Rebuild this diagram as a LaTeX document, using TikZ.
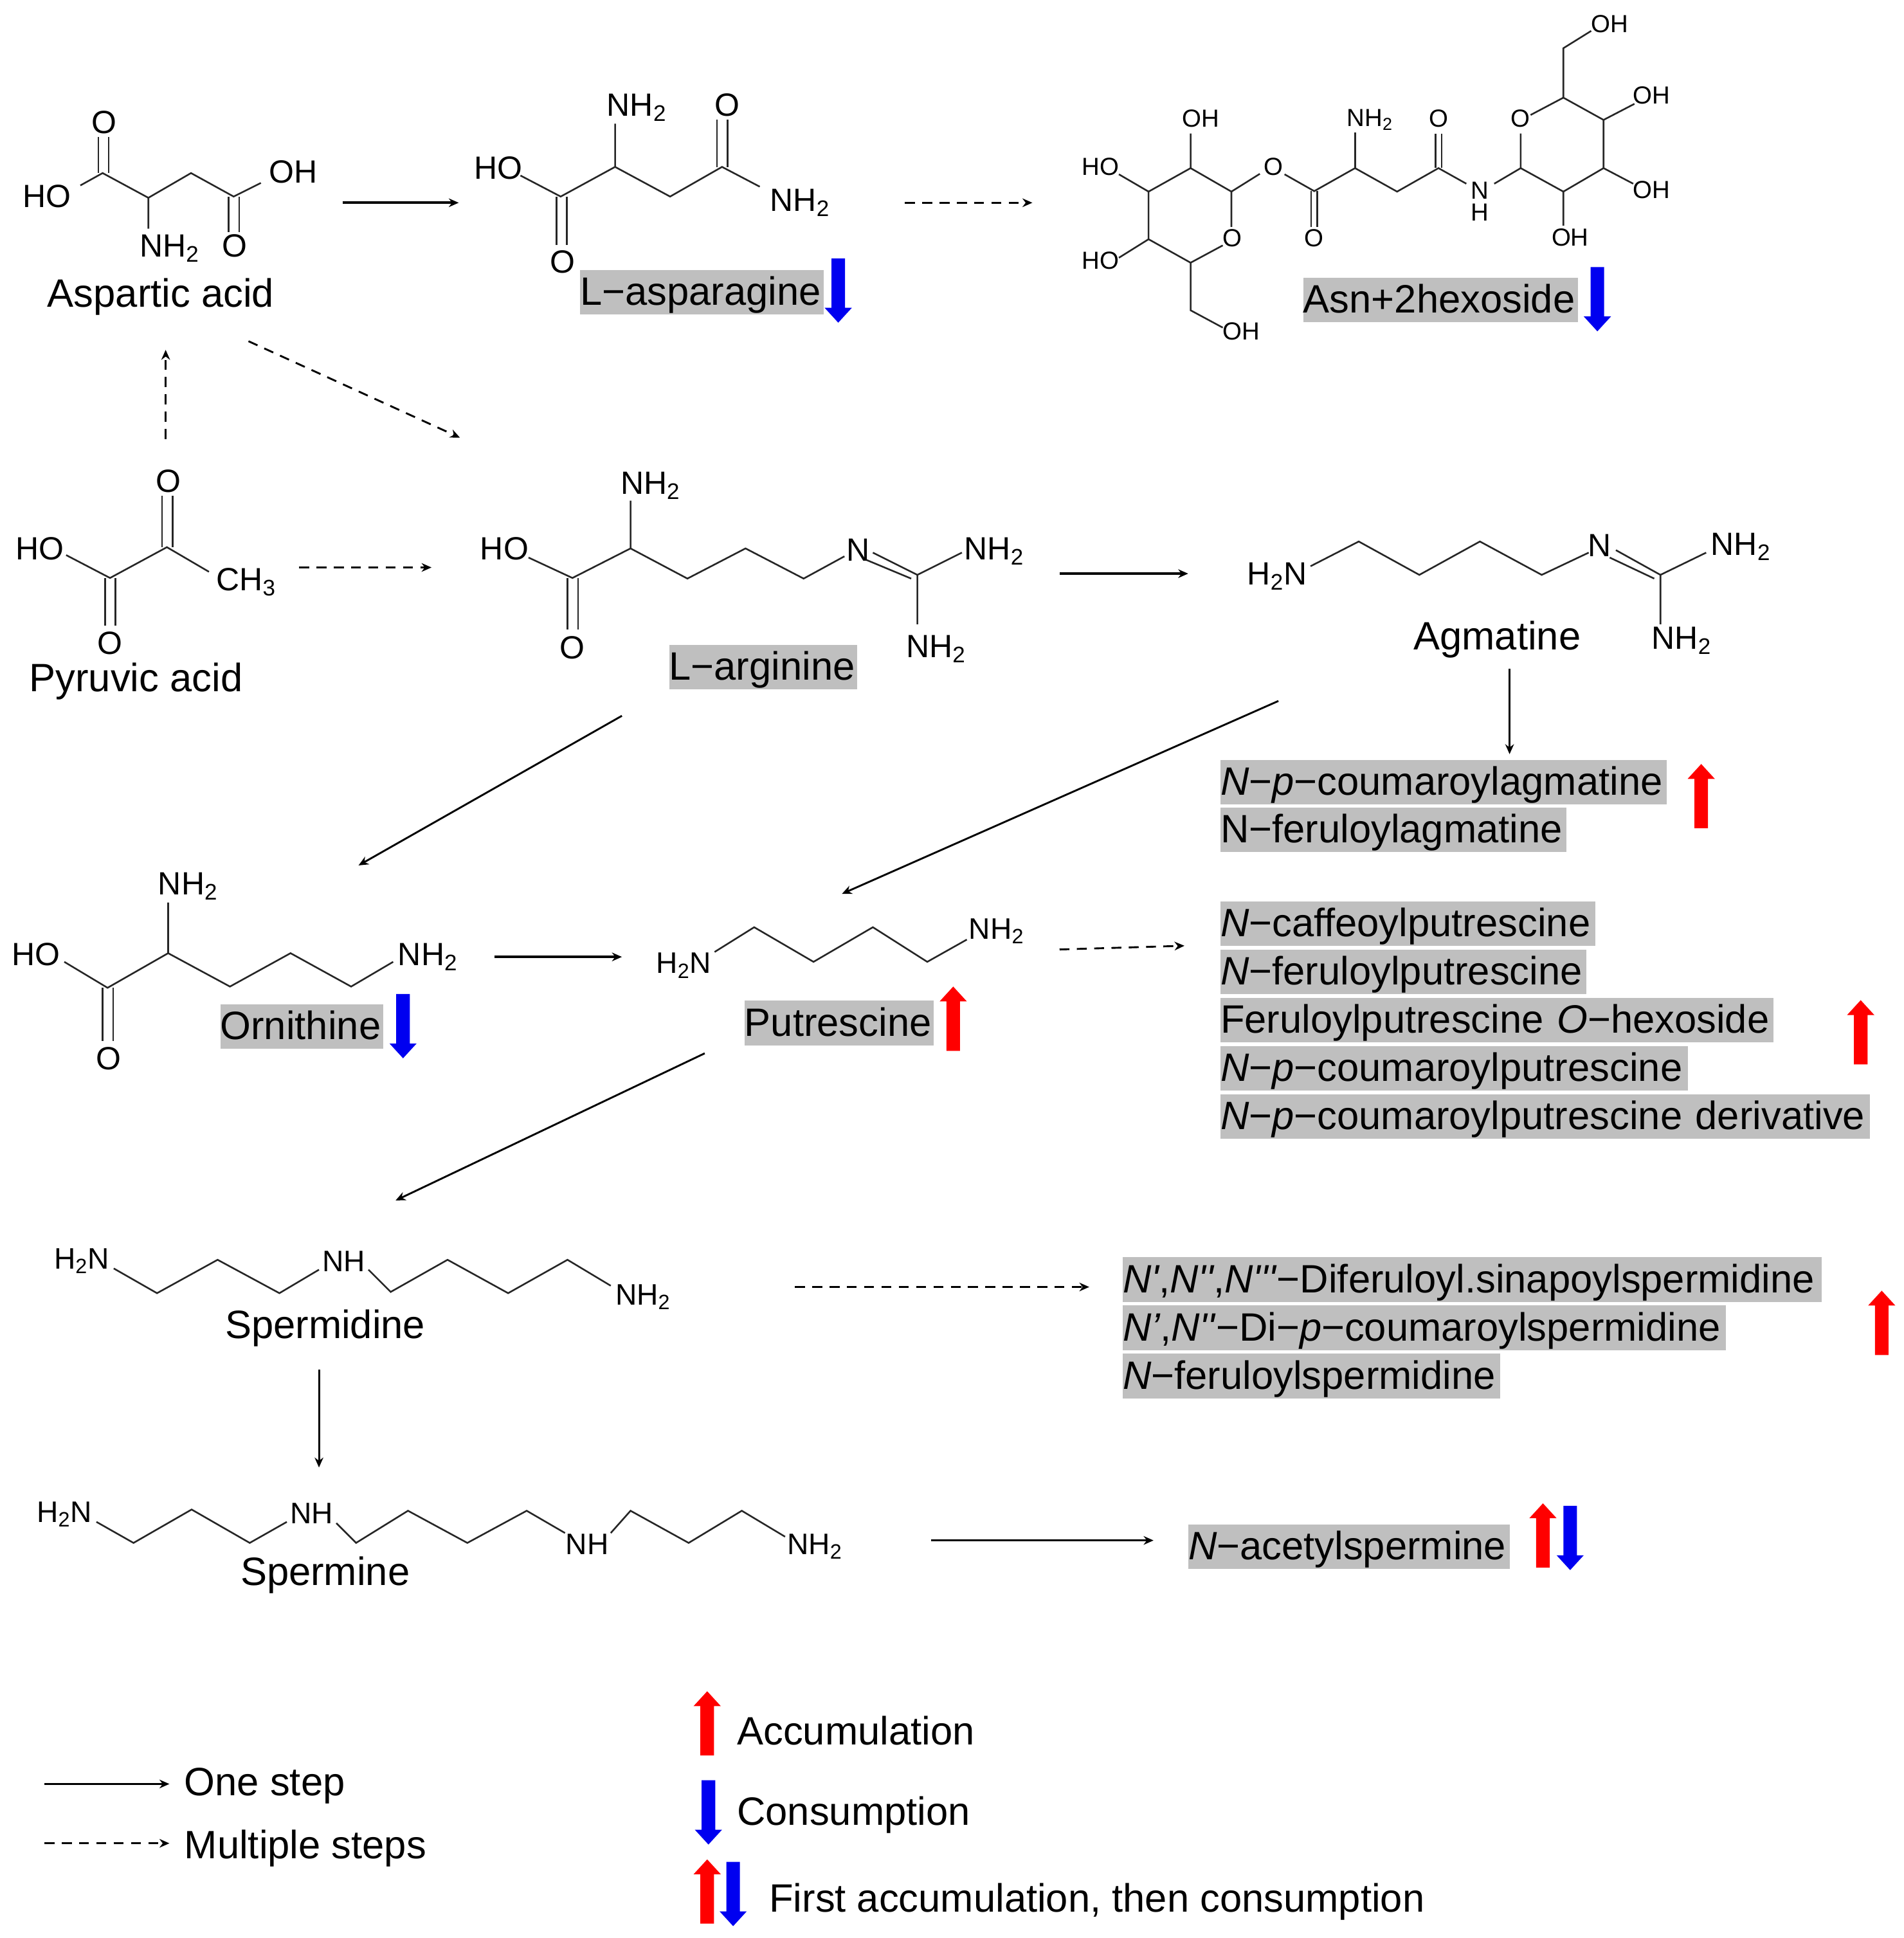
\documentclass[tikz,border=0pt]{standalone}
\usepackage{fontspec}
\setmainfont{Liberation Sans}
\usetikzlibrary{arrows.meta}
\definecolor{hit}{HTML}{BFBFBF}
\definecolor{upred}{HTML}{FF0000}
\definecolor{downblue}{HTML}{0000F0}
\newcommand{\nhtwo}{NH\textsubscript{2}}
\newcommand{\htwon}{H\textsubscript{2}N}
\newcommand{\sq}{\textquotesingle}
\tikzset{
  bond/.style={line width=1.35pt,black!85},
  onestep/.style={line width=1.5pt,-{Stealth[length=8pt,width=7pt]}},
  manysteps/.style={onestep,dash pattern=on 8pt off 6pt},
  big/.style={inner sep=0pt,font=\fontsize{32}{36}\selectfont,text height=27pt,text depth=4pt},
  atom/.style={inner sep=0pt,font=\fontsize{26}{30}\selectfont},
  chain/.style={inner sep=0pt,font=\fontsize{24}{28}\selectfont},
  small/.style={inner sep=0pt,font=\fontsize{20}{24}\selectfont},
  tag/.style={big,fill=hit,minimum height=36pt,align=left,anchor=west,text height=26pt,text depth=5pt},
  pics/mark/.style={code={\fill[#1] (0,0)--(11,12)--(5.5,12)--(5.5,52)--(-5.5,52)--(-5.5,12)--(-11,12)--cycle;}}
}
\begin{document}
\begin{tikzpicture}[x=1pt,y=-1pt]
  \useasboundingbox (0,0) rectangle (1540,1567.6);

  % Aspartic acid
  \draw[bond] (65,150)--(83,140)--(120,160)--(154.5,140)--(189,159)--(211,148) (120,160)--(120,185);
  \draw[bond] (79.5,111)--(79.5,140) (88,111)--(88,140) (185,159)--(185,188) (193.5,159)--(193.5,188);
  \node[atom] (aspO1) at (84,99) {O};
  \node[atom] (aspHO) at (38,159) {HO};
  \node[atom] (aspOH) at (237,139) {OH};
  \node[atom] (aspN) at (137,201) {\nhtwo};
  \node[atom] (aspO2) at (190,199) {O};
  \node[big] (aspName) at (130,237) {Aspartic acid};

  % L-asparagine
  \draw[bond] (421,142)--(453.5,159)--(497.5,135)--(542,159)--(584,135)--(614.5,151) (497.5,135)--(497.5,100);
  \draw[bond] (450,159)--(450,198) (458.5,159)--(458.5,198) (580,135)--(580,97) (588.5,135)--(588.5,97);
  \node[atom] (asnHO) at (403,136) {HO};
  \node[atom] (asnN1) at (515,87) {\nhtwo};
  \node[atom] (asnO1) at (588,85) {O};
  \node[atom] (asnN2) at (647,164) {\nhtwo};
  \node[atom] (asnO2) at (455,212) {O};
  \node[tag,text width=197pt] (asnName) at (469,236.5) {L\textminus asparagine};
  \pic[yscale=-1] at (678,261) {mark=downblue};

  % Asn+2hexoside
  \draw[bond] (963,108)--(963,136)--(996,155)--(996,183.5) (989,198.5)--(963,212.5)--(929,193.5)--(929,155)--(963,136);
  \draw[bond] (905,141)--(929,155) (905,208.5)--(929,193.5) (963,212.5)--(963,251)--(989,265);
  \draw[bond] (996,155)--(1019,140.6) (1039,141)--(1063,154.6)--(1096,136)--(1130,155)--(1163.5,136)--(1186,148.6);
  \draw[bond] (1096,136)--(1096,107) (1060.5,154.6)--(1060.5,183.5) (1065.5,154.6)--(1065.5,183.5) (1161,136)--(1161,108) (1166,136)--(1166,108);
  \draw[bond] (1208.6,148.6)--(1230,136)--(1230,108) (1238,93)--(1264.5,79)--(1297,97)--(1297,136)--(1264.5,155)--(1230,136);
  \draw[bond] (1264.5,79)--(1264.5,39)--(1287,25) (1297,97)--(1322,84) (1297,136)--(1321,148.6) (1264.5,155)--(1264.5,182.5);
  \node[small] (hexHO1) at (890,135) {HO};
  \node[small] (hexOH1) at (971,96) {OH};
  \node[small] (hexHO2) at (890,211) {HO};
  \node[small] (hexOr1) at (997,192.5) {O};
  \node[small] (hexOH2) at (1004,268) {OH};
  \node[small] (hexOl) at (1030,135) {O};
  \node[small] (hexO2) at (1063,192.5) {O};
  \node[small] (hexN1) at (1108,97) {\nhtwo};
  \node[small] (hexO3) at (1163.5,96) {O};
  \node[small] (hexN2) at (1197,154) {N};
  \node[small] (hexH) at (1197,172) {H};
  \node[small] (hexOr2) at (1230,96) {O};
  \node[small] (hexOH3) at (1302,19.5) {OH};
  \node[small] (hexOH4) at (1336,77) {OH};
  \node[small] (hexOH5) at (1336,153.5) {OH};
  \node[small] (hexOH6) at (1270,192) {OH};
  \node[tag,text width=222pt] (hexName) at (1054,242.5) {Asn+2hexoside};
  \pic[yscale=-1] at (1292,268) {mark=downblue};

  % Pyruvic acid
  \draw[bond] (53.5,449)--(89,467.5)--(135,442.6)--(169,462.5);
  \draw[bond] (85,467.5)--(85,506) (93.5,467.5)--(93.5,506) (131,442.6)--(131,401) (139.5,442.6)--(139.5,401);
  \node[atom] (pyrHO) at (32,444) {HO};
  \node[atom] (pyrO1) at (136,389) {O};
  \node[atom] (pyrO2) at (89,520) {O};
  \node[atom] (pyrC) at (199,471) {CH\textsubscript{3}};
  \node[big] (pyrName) at (110,548) {Pyruvic acid};

  % L-arginine
  \draw[bond] (427.5,451)--(463,467.5)--(510,443.6)--(556,468)--(603,443.6)--(650,468)--(683,450) (510,443.6)--(510,405);
  \draw[bond] (459,467.5)--(459,509) (467.5,467.5)--(467.5,509);
  \draw[bond] (706,447)--(742,465)--(778,447) (701,453)--(737,468) (742,465)--(742,505);
  \node[atom] (argHO) at (408,444) {HO};
  \node[atom] (argN1) at (526,393) {\nhtwo};
  \node[atom] (argO) at (463,524) {O};
  \node[atom] (argN2) at (694,445) {N};
  \node[atom] (argN3) at (804,446) {\nhtwo};
  \node[atom] (argN4) at (757,525) {\nhtwo};
  \node[tag,text width=152pt] (argName) at (541,539.5) {L\textminus arginine};

  % Agmatine
  \draw[bond] (1060,458)--(1099,438)--(1148,465)--(1197,438)--(1247,465)--(1285,447);
  \draw[bond] (1307,445)--(1343,465)--(1380,447) (1302,451)--(1338,468) (1343,465)--(1343,505);
  \node[atom] (agmN1) at (1033,466) {\htwon};
  \node[atom] (agmN2) at (1294,441) {N};
  \node[atom] (agmN3) at (1408,442) {\nhtwo};
  \node[atom] (agmN4) at (1360,518) {\nhtwo};
  \node[big] (agmName) at (1211,514) {Agmatine};

  % Ornithine
  \draw[bond] (52,778)--(87,799)--(136,771)--(186,798)--(235,771)--(284,798)--(318,778) (136,771)--(136,730);
  \draw[bond] (83,799)--(83,842) (91.5,799)--(91.5,842);
  \node[atom] (ornHO) at (29,772) {HO};
  \node[atom] (ornN1) at (152,717) {\nhtwo};
  \node[atom] (ornN2) at (346,774) {\nhtwo};
  \node[atom] (ornO) at (88,856) {O};
  \node[tag,text width=132pt] (ornName) at (178,830.5) {Ornithine};
  \pic[yscale=-1] at (326,856) {mark=downblue};

  % Putrescine
  \draw[bond] (578,770)--(610,750)--(658,778)--(706,750)--(750,778)--(782,760);
  \node[chain] (putN1) at (553,781) {\htwon};
  \node[chain] (putN2) at (806,753) {\nhtwo};
  \node[tag,text width=153pt] (putName) at (602,827.5) {Putrescine};
  \pic at (771,798) {mark=upred};

  % Spermidine
  \draw[bond] (92,1026)--(127,1046)--(176,1019)--(226,1046)--(258,1027) (298,1027)--(316,1045)--(362,1019)--(411,1046)--(459,1019)--(494,1040);
  \node[chain] (spdN1) at (66,1020) {\htwon};
  \node[chain] (spdN2) at (278,1020) {NH};
  \node[chain] (spdN3) at (520,1049) {\nhtwo};
  \node[big] (spdName) at (263,1071) {Spermidine};

  % Spermine
  \draw[bond] (78,1231)--(108,1248)--(155,1221)--(202,1248)--(232,1231) (272,1232)--(288,1248)--(330,1222)--(378,1248)--(426,1222)--(457,1240);
  \draw[bond] (494,1240)--(510,1222)--(557,1248)--(600,1222)--(635,1243);
  \node[chain] (spmN1) at (52,1225) {\htwon};
  \node[chain] (spmN2) at (252,1224) {NH};
  \node[chain] (spmN3) at (475,1249) {NH};
  \node[chain] (spmN4) at (659,1251) {\nhtwo};
  \node[big] (spmName) at (263,1271) {Spermine};

  % Product lists
  \node[tag,text width=361pt] (l1) at (987,632.5) {\textit{N}\textminus\textit{p}\textminus coumaroylagmatine};
  \node[tag,text width=280pt] (l2) at (987,671) {N\textminus feruloylagmatine};
  \pic at (1376,618) {mark=upred};
  \node[tag,text width=303pt] (l3) at (987,747) {\textit{N}\textminus caffeoylputrescine};
  \node[tag,text width=296pt] (l4) at (987,786) {\textit{N}\textminus feruloylputrescine};
  \node[tag,text width=447pt] (l5) at (987,825) {Feruloylputrescine \textit{O}\textminus hexoside};
  \node[tag,text width=378pt] (l6) at (987,864) {\textit{N}\textminus\textit{p}\textminus coumaroylputrescine};
  \node[tag,text width=525pt] (l7) at (987,903) {\textit{N}\textminus\textit{p}\textminus coumaroylputrescine derivative};
  \pic at (1505,809) {mark=upred};
  \node[tag,text width=565pt] (l8) at (908,1035) {\textit{N\sq},\textit{N\sq\sq},\textit{N\sq\sq\sq}\textminus Diferuloyl.sinapoylspermidine};
  \node[tag,text width=488pt] (l9) at (908,1074) {\textit{N\textquoteright},\textit{N\sq\sq}\textminus Di\textminus\textit{p}\textminus coumaroylspermidine};
  \node[tag,text width=305pt] (l10) at (908,1113) {\textit{N}\textminus feruloylspermidine};
  \pic at (1522,1044) {mark=upred};
  \node[tag,text width=260pt] (l11) at (961,1251) {\textit{N}\textminus acetylspermine};
  \pic at (1248,1216) {mark=upred};
  \pic[yscale=-1] at (1270,1270) {mark=downblue};

  % Pathway arrows
  \coordinate (a1) at (277,164);   \coordinate (a2) at (371,164);
  \coordinate (b1) at (732,164);   \coordinate (b2) at (835,164);
  \coordinate (c1) at (134,355);   \coordinate (c2) at (134,283);
  \coordinate (d1) at (201,276);   \coordinate (d2) at (372,354);
  \coordinate (e1) at (242,459);   \coordinate (e2) at (349,459);
  \coordinate (f1) at (857,464);   \coordinate (f2) at (961,464);
  \coordinate (g1) at (1221,541);  \coordinate (g2) at (1221,610);
  \coordinate (h1) at (503,579);   \coordinate (h2) at (290,700);
  \coordinate (i1) at (1034,567);  \coordinate (i2) at (681,723);
  \coordinate (j1) at (400,774);   \coordinate (j2) at (503,774);
  \coordinate (k1) at (857,768);   \coordinate (k2) at (958,765);
  \coordinate (m1) at (570,852);   \coordinate (m2) at (320,971);
  \coordinate (n1) at (643,1041);  \coordinate (n2) at (881,1041);
  \coordinate (o1) at (258,1108);  \coordinate (o2) at (258,1187);
  \coordinate (p1) at (753,1246);  \coordinate (p2) at (933,1246);
  \draw[onestep,line width=2pt] (a1) -- (a2);
  \draw[manysteps] (b1) -- (b2);
  \draw[manysteps] (c1) -- (c2);
  \draw[manysteps] (d1) -- (d2);
  \draw[manysteps] (e1) -- (e2);
  \draw[onestep,line width=2pt] (f1) -- (f2);
  \draw[onestep] (g1) -- (g2);
  \draw[onestep] (h1) -- (h2);
  \draw[onestep] (i1) -- (i2);
  \draw[onestep,line width=2pt] (j1) -- (j2);
  \draw[manysteps] (k1) -- (k2);
  \draw[onestep] (m1) -- (m2);
  \draw[manysteps] (n1) -- (n2);
  \draw[onestep] (o1) -- (o2);
  \draw[onestep] (p1) -- (p2);

  % Legend
  \coordinate (q1) at (36,1443);   \coordinate (q2) at (137,1443);
  \coordinate (r1) at (36,1491);   \coordinate (r2) at (137,1491);
  \draw[onestep] (q1) -- (q2);
  \draw[manysteps] (r1) -- (r2);
  \node[big,anchor=west] (legOne) at (149,1441) {One step};
  \node[big,anchor=west] (legMany) at (149,1492) {Multiple steps};
  \pic at (572,1368) {mark=upred};
  \node[big,anchor=west] (legUp) at (596,1400) {Accumulation};
  \pic[yscale=-1] at (573,1492) {mark=downblue};
  \node[big,anchor=west] (legDown) at (596,1465) {Consumption};
  \pic at (572,1504) {mark=upred};
  \pic[yscale=-1] at (593,1558) {mark=downblue};
  \node[big,anchor=west] (legBoth) at (622,1535) {First accumulation, then consumption};
\end{tikzpicture}
\end{document}
